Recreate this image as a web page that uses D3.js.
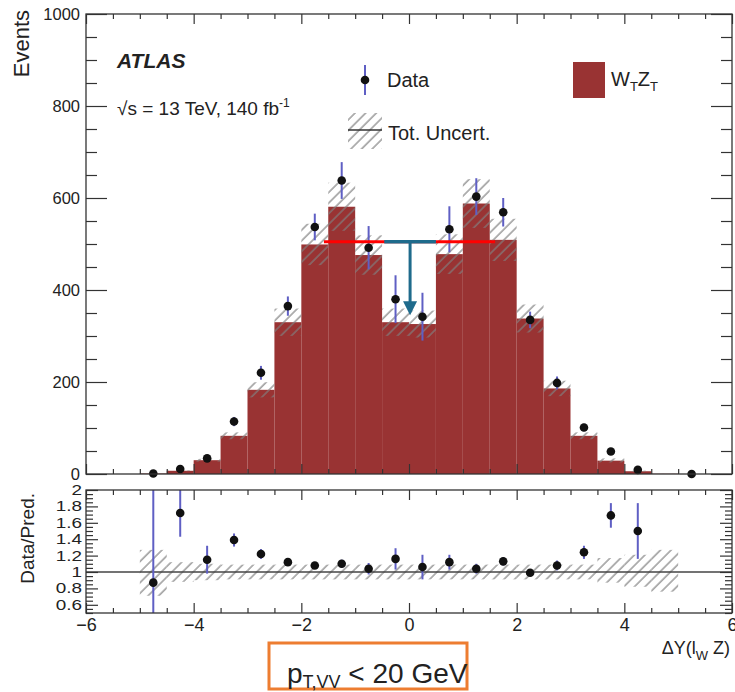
<!DOCTYPE html>
<html>
<head>
<meta charset="utf-8">
<script src="https://cdn.jsdelivr.net/npm/d3@7"></script>
<style>
  body { margin: 0; background: #fff; }
  text { font-family: "Liberation Sans", Arial, sans-serif; fill: #222; }
</style>
</head>
<body>
<div id="chart"></div>
<script>
// ---- data ----
// prediction histogram, bins of 0.5 in dY(l_W Z), left edges
var binLo = [-5, -4.5, -4, -3.5, -3, -2.5, -2, -1.5, -1, -0.5, 0, 0.5, 1, 1.5, 2, 2.5, 3, 3.5, 4, 4.5];
var predWTZT = [1, 7, 30, 83, 183, 330, 499, 581, 476, 330, 326, 478, 588, 509, 338, 186, 83, 29, 6, 0.5];
// relative total uncertainty on the prediction (up / down)
var uncUp = [0.27, 0.12, 0.1, 0.09, 0.09, 0.09, 0.09, 0.09, 0.09, 0.09, 0.09, 0.09, 0.09, 0.09, 0.09, 0.09, 0.09, 0.17, 0.21, 0.27];
var uncDn = [0.29, 0.12, 0.1, 0.09, 0.09, 0.09, 0.09, 0.09, 0.09, 0.09, 0.09, 0.09, 0.09, 0.09, 0.09, 0.09, 0.09, 0.13, 0.18, 0.24];

// data points
var dataX = [-4.75, -4.25, -3.75, -3.25, -2.75, -2.25, -1.75, -1.25, -0.75, -0.25, 0.25, 0.75, 1.25, 1.75, 2.25, 2.75, 3.25, 3.75, 4.25, 5.25];
var dataY = [1, 11, 34, 114, 220, 365, 537, 638, 492, 380, 342, 532, 603, 569, 335, 198, 101, 49, 9, 0];
var dataErr = [1, 3, 6, 10, 15, 21, 29, 40, 47, 52, 52, 50, 40, 31, 18, 14, 8, 6, 3, 0];

// data / prediction
var ratioX = [-4.75, -4.25, -3.75, -3.25, -2.75, -2.25, -1.75, -1.25, -0.75, -0.25, 0.25, 0.75, 1.25, 1.75, 2.25, 2.75, 3.25, 3.75, 4.25];
var ratioY = [0.87, 1.72, 1.15, 1.39, 1.22, 1.12, 1.08, 1.10, 1.04, 1.16, 1.06, 1.12, 1.04, 1.13, 0.99, 1.08, 1.24, 1.69, 1.50];
var ratioErr = [1.6, 0.29, 0.17, 0.08, 0.06, 0.04, 0.04, 0.05, 0.07, 0.13, 0.15, 0.09, 0.06, 0.05, 0.04, 0.06, 0.08, 0.15, 0.34];

// tick labels
var xTicks = [-6, -4, -2, 0, 2, 4, 6];
var yTicks = [0, 200, 400, 600, 800, 1000];
var rTicks = [0.6, 0.8, 1, 1.2, 1.4, 1.6, 1.8, 2];

// slide annotation (in data units)
var markLevel = 505;
var redSpan = [-1.58, 1.6];
var tealSpan = [-0.46, 0.5];
var arrowAt = [0.02, 345];

// ---- layout ----
var svgWidth = 735, svgHeight = 692;
var plotL = 86, plotR = 732;
var mainT = 14, mainB = 474;
var ratT = 490, ratB = 613;

var barColor = "#993333";
var errColor = "#5f5fc4";

var svg = d3.select("#chart").append("svg")
  .attr("width", svgWidth)
  .attr("height", svgHeight);

var defs = svg.append("defs");
var pat = defs.append("pattern")
  .attr("id", "hatch")
  .attr("patternUnits", "userSpaceOnUse")
  .attr("width", 7.5).attr("height", 7.5)
  .attr("patternTransform", "rotate(45)");
pat.append("line")
  .attr("x1", 1).attr("y1", 0).attr("x2", 1).attr("y2", 7.5)
  .attr("stroke", "#808080").attr("stroke-width", 1.2);

defs.append("clipPath").attr("id", "ratClip")
  .append("rect")
  .attr("x", plotL).attr("y", ratT)
  .attr("width", plotR - plotL).attr("height", ratB - ratT);

// scales
var x = d3.scaleLinear().domain([-6, 6]).range([plotL, plotR]);
var y = d3.scaleLinear().domain([0, 1000]).range([mainB, mainT]);
var yr = d3.scaleLinear().domain([0.5, 2]).range([ratB, ratT]);

var minorX = d3.range(-6, 6.01, 0.5).filter(v => v % 2 !== 0);
var minorY = d3.range(0, 1001, 50).filter(v => v % 200 !== 0);
var minorR = d3.range(0.5, 2.001, 0.05).filter(v => rTicks.every(t => Math.abs(t - v) > 1e-6));

// ========== main panel ==========
var main = svg.append("g");

// prediction bars
main.selectAll("rect.bar")
  .data(binLo)
  .enter()
  .append("rect")
  .attr("class", "bar")
  .attr("x", d => x(d))
  .attr("width", d => x(d + 0.5) - x(d))
  .attr("y", (d, i) => y(predWTZT[i]))
  .attr("height", (d, i) => y(0) - y(predWTZT[i]))
  .attr("fill", barColor);

// uncertainty hatch
main.selectAll("rect.unc")
  .data(binLo)
  .enter()
  .append("rect")
  .attr("class", "unc")
  .attr("x", d => x(d))
  .attr("width", d => x(d + 0.5) - x(d))
  .attr("y", (d, i) => y(predWTZT[i] * (1 + uncUp[i])))
  .attr("height", (d, i) => y(predWTZT[i] * (1 - uncDn[i])) - y(predWTZT[i] * (1 + uncUp[i])))
  .attr("fill", "url(#hatch)");

// data error bars + points
main.selectAll("line.err")
  .data(dataX)
  .enter()
  .append("line")
  .attr("x1", d => x(d)).attr("x2", d => x(d))
  .attr("y1", (d, i) => y(dataY[i] + dataErr[i]))
  .attr("y2", (d, i) => y(Math.max(0, dataY[i] - dataErr[i])))
  .attr("stroke", errColor).attr("stroke-width", 2);

main.selectAll("circle")
  .data(dataX)
  .enter()
  .append("circle")
  .attr("cx", d => x(d))
  .attr("cy", (d, i) => y(dataY[i]))
  .attr("r", 4.3)
  .attr("fill", "#111");

// axes (ROOT style, ticks inward)
function styleAxis(g) {
  g.select(".domain").remove();
  g.selectAll(".tick line").attr("stroke", "#333").attr("stroke-width", 1.2);
}

main.append("g")
  .attr("transform", `translate(${plotL},0)`)
  .call(d3.axisLeft(y).tickValues(yTicks).tickSize(-21).tickPadding(6).tickFormat(d3.format("d")))
  .call(styleAxis)
  .selectAll("text").style("font-size", "16.5px").attr("fill", "#222");
main.append("g")
  .attr("transform", `translate(${plotL},0)`)
  .call(d3.axisLeft(y).tickValues(minorY).tickSize(-11).tickFormat(""))
  .call(styleAxis);
main.append("g")
  .attr("transform", `translate(${plotR},0)`)
  .call(d3.axisRight(y).tickValues(yTicks).tickSize(-21).tickFormat(""))
  .call(styleAxis);
main.append("g")
  .attr("transform", `translate(${plotR},0)`)
  .call(d3.axisRight(y).tickValues(minorY).tickSize(-11).tickFormat(""))
  .call(styleAxis);
[[mainT, d3.axisTop], [mainB, d3.axisBottom]].forEach(function(p) {
  main.append("g")
    .attr("transform", `translate(0,${p[0]})`)
    .call(p[1](x).tickValues(xTicks).tickSize(-10).tickFormat(""))
    .call(styleAxis);
  main.append("g")
    .attr("transform", `translate(0,${p[0]})`)
    .call(p[1](x).tickValues(minorX).tickSize(-5).tickFormat(""))
    .call(styleAxis);
});

main.append("rect")
  .attr("x", plotL).attr("y", mainT)
  .attr("width", plotR - plotL).attr("height", mainB - mainT)
  .attr("fill", "none").attr("stroke", "#333").attr("stroke-width", 1.3);

// y title
svg.append("text")
  .attr("transform", "translate(29,10) rotate(-90)")
  .attr("text-anchor", "end")
  .style("font-size", "22px")
  .text("Events");

// ATLAS label
svg.append("text")
  .attr("x", 117).attr("y", 68)
  .style("font-size", "21px").style("font-weight", "bold").style("font-style", "italic")
  .text("ATLAS");
var lumi = svg.append("text")
  .attr("x", 117).attr("y", 115)
  .style("font-size", "19px");
lumi.append("tspan").text("\u221As = 13 TeV, 140 fb");
lumi.append("tspan").attr("dy", -8).style("font-size", "12px").text("-1");

// legend
var leg = svg.append("g");
leg.append("line")
  .attr("x1", 365).attr("x2", 365).attr("y1", 65).attr("y2", 95)
  .attr("stroke", errColor).attr("stroke-width", 2);
leg.append("circle").attr("cx", 365).attr("cy", 80).attr("r", 4.3).attr("fill", "#111");
leg.append("text").attr("x", 387).attr("y", 87).style("font-size", "20px").text("Data");

leg.append("rect")
  .attr("x", 348).attr("y", 113).attr("width", 34).attr("height", 36)
  .attr("fill", "url(#hatch)");
leg.append("line")
  .attr("x1", 348).attr("x2", 382).attr("y1", 130).attr("y2", 130)
  .attr("stroke", "#333").attr("stroke-width", 1.5);
leg.append("text").attr("x", 388).attr("y", 140).style("font-size", "20px").text("Tot. Uncert.");

leg.append("rect")
  .attr("x", 573).attr("y", 62).attr("width", 32).attr("height", 36)
  .attr("fill", barColor);
var wz = leg.append("text").attr("x", 611).attr("y", 86).style("font-size", "20px");
wz.append("tspan").text("W");
wz.append("tspan").attr("dy", 5).style("font-size", "13px").text("T");
wz.append("tspan").attr("dy", -5).text("Z");
wz.append("tspan").attr("dy", 5).style("font-size", "13px").text("T");

// ========== ratio panel ==========
var rat = svg.append("g");
var ratPlot = rat.append("g").attr("clip-path", "url(#ratClip)");

ratPlot.selectAll("rect.runc")
  .data(binLo)
  .enter()
  .append("rect")
  .attr("x", d => x(d))
  .attr("width", d => x(d + 0.5) - x(d))
  .attr("y", (d, i) => yr(1 + uncUp[i]))
  .attr("height", (d, i) => yr(1 - uncDn[i]) - yr(1 + uncUp[i]))
  .attr("fill", "url(#hatch)");

ratPlot.append("line")
  .attr("x1", plotL).attr("x2", plotR)
  .attr("y1", yr(1)).attr("y2", yr(1))
  .attr("stroke", "#444").attr("stroke-width", 1.5);

ratPlot.selectAll("line.rerr")
  .data(ratioX)
  .enter()
  .append("line")
  .attr("x1", d => x(d)).attr("x2", d => x(d))
  .attr("y1", (d, i) => yr(ratioY[i] + ratioErr[i]))
  .attr("y2", (d, i) => yr(ratioY[i] - ratioErr[i]))
  .attr("stroke", errColor).attr("stroke-width", 2);

ratPlot.selectAll("circle")
  .data(ratioX)
  .enter()
  .append("circle")
  .attr("cx", d => x(d))
  .attr("cy", (d, i) => yr(ratioY[i]))
  .attr("r", 4.3)
  .attr("fill", "#111");

rat.append("g")
  .attr("transform", `translate(${plotL},0)`)
  .call(d3.axisLeft(yr).tickValues(rTicks).tickSize(-12).tickPadding(3).tickFormat(d => String(d)))
  .call(styleAxis)
  .selectAll("text")
  .style("font-size", "14px")
  .attr("fill", "#222")
  .attr("transform", "scale(1.35,1)");
rat.append("g")
  .attr("transform", `translate(${plotL},0)`)
  .call(d3.axisLeft(yr).tickValues(minorR).tickSize(-7).tickFormat(""))
  .call(styleAxis);
rat.append("g")
  .attr("transform", `translate(${plotR},0)`)
  .call(d3.axisRight(yr).tickValues(rTicks).tickSize(-12).tickFormat(""))
  .call(styleAxis);
rat.append("g")
  .attr("transform", `translate(${plotR},0)`)
  .call(d3.axisRight(yr).tickValues(minorR).tickSize(-7).tickFormat(""))
  .call(styleAxis);

rat.append("g")
  .attr("transform", `translate(0,${ratB})`)
  .call(d3.axisBottom(x).tickValues(xTicks).tickSize(-10).tickPadding(5))
  .call(styleAxis)
  .selectAll("text").style("font-size", "18px").attr("fill", "#222");
rat.append("g")
  .attr("transform", `translate(0,${ratB})`)
  .call(d3.axisBottom(x).tickValues(minorX).tickSize(-5).tickFormat(""))
  .call(styleAxis);
rat.append("g")
  .attr("transform", `translate(0,${ratT})`)
  .call(d3.axisTop(x).tickValues(xTicks).tickSize(-10).tickFormat(""))
  .call(styleAxis);
rat.append("g")
  .attr("transform", `translate(0,${ratT})`)
  .call(d3.axisTop(x).tickValues(minorX).tickSize(-5).tickFormat(""))
  .call(styleAxis);

rat.append("rect")
  .attr("x", plotL).attr("y", ratT)
  .attr("width", plotR - plotL).attr("height", ratB - ratT)
  .attr("fill", "none").attr("stroke", "#333").attr("stroke-width", 1.3);

svg.append("text")
  .attr("transform", "translate(34,493) rotate(-90)")
  .attr("text-anchor", "end")
  .style("font-size", "19px")
  .text("Data/Pred.");

var xt = svg.append("text")
  .attr("x", 730).attr("y", 654)
  .attr("text-anchor", "end")
  .style("font-size", "18px");
xt.append("tspan").text("\u0394Y(l");
xt.append("tspan").attr("dy", 6).style("font-size", "13px").text("W");
xt.append("tspan").attr("dy", -6).text(" Z)");

// ========== slide annotations ==========
var ann = svg.append("g");
ann.append("line")
  .attr("x1", x(redSpan[0])).attr("x2", x(redSpan[1]))
  .attr("y1", y(markLevel)).attr("y2", y(markLevel))
  .attr("stroke", "#ff0000").attr("stroke-width", 3);
ann.append("line")
  .attr("x1", x(tealSpan[0])).attr("x2", x(tealSpan[1]))
  .attr("y1", y(markLevel)).attr("y2", y(markLevel))
  .attr("stroke", "#1f6b8c").attr("stroke-width", 3.5);
ann.append("line")
  .attr("x1", x(arrowAt[0])).attr("x2", x(arrowAt[0]))
  .attr("y1", y(markLevel)).attr("y2", y(arrowAt[1]) - 12)
  .attr("stroke", "#1f6b8c").attr("stroke-width", 3);
ann.append("path")
  .attr("d", d3.line()([
    [x(arrowAt[0]) - 7, y(arrowAt[1]) - 14],
    [x(arrowAt[0]) + 7, y(arrowAt[1]) - 14],
    [x(arrowAt[0]), y(arrowAt[1])]
  ]))
  .attr("fill", "#1f6b8c");

// orange caption box
svg.append("rect")
  .attr("x", 269).attr("y", 643)
  .attr("width", 198).attr("height", 46)
  .attr("fill", "none").attr("stroke", "#ed7d31").attr("stroke-width", 3);
var cap = svg.append("text")
  .attr("x", 287).attr("y", 683)
  .style("font-size", "28px").attr("fill", "#111");
cap.append("tspan").text("p");
cap.append("tspan").attr("dy", 5).style("font-size", "18px").text("T,VV");
cap.append("tspan").attr("dy", -5).text(" < 20 GeV");
</script>
</body>
</html>
